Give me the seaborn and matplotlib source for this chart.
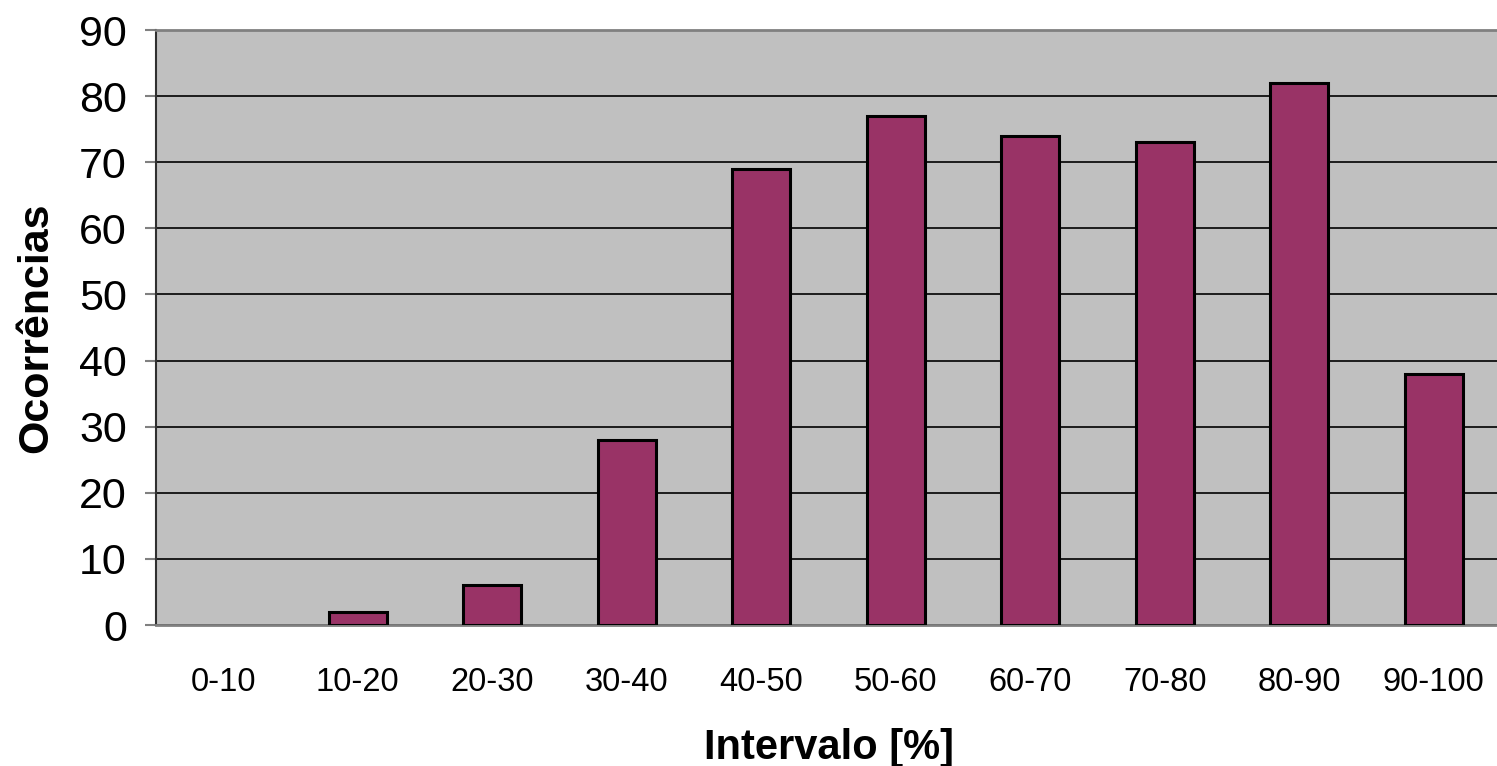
import matplotlib
matplotlib.use("Agg")
import matplotlib.pyplot as plt
import seaborn as sns
import pandas as pd
import numpy as np

categories = ["0-10", "10-20", "20-30", "30-40", "40-50",
              "50-60", "60-70", "70-80", "80-90", "90-100"]
ocorrencias = [0, 2, 6, 28, 69, 77, 74, 73, 82, 38]

df = pd.DataFrame({"intervalo": categories, "ocorrencias": ocorrencias})

sns.set_style("white")
plt.rcParams['font.family'] = ['Liberation Sans', 'DejaVu Sans']
plt.rcParams['text.color'] = 'black'
plt.rcParams['axes.labelcolor'] = 'black'
plt.rcParams['xtick.color'] = 'black'
plt.rcParams['ytick.color'] = 'black'

fig = plt.figure(figsize=(14.97, 7.66), dpi=100)
ax = fig.add_axes([0.1042, 0.184, 0.8985, 0.7768])
ax.set_facecolor("#C0C0C0")

sns.barplot(data=df, x="intervalo", y="ocorrencias", color="#993366",
            saturation=1, width=0.43, edgecolor="black", linewidth=2.2,
            ax=ax, zorder=3)

# empty bins show no outline
for patch, val in zip(ax.patches, ocorrencias):
    if val == 0:
        patch.set_linewidth(0)

ax.set_ylim(0, 90)
ax.set_xlim(-0.5, len(categories) - 0.5)
ax.set_yticks(np.arange(0, 91, 10))
ax.yaxis.grid(True, color="black", linewidth=1.2, zorder=0)
ax.set_axisbelow(True)

# ticks between the categories, labels at the centres
ax.set_xticks(np.arange(-0.5, len(categories) - 0.5, 1), minor=True)
ax.tick_params(axis="x", which="major", length=0, labelsize=23.5, pad=30,
               labelcolor="black")
ax.tick_params(axis="x", which="minor", length=7, width=1.5, color="#808080",
               direction="out")
ax.tick_params(axis="y", length=8, width=1.5, color="#808080", labelsize=31,
               pad=13, direction="out", left=True, labelcolor="black")

for side in ["top", "bottom"]:
    ax.spines[side].set_color("#808080")
    ax.spines[side].set_linewidth(2)
ax.spines["left"].set_color("#303030")
ax.spines["left"].set_linewidth(1.5)
ax.spines["right"].set_visible(False)

ax.set_xlabel("Intervalo [%]", fontsize=30, fontweight="bold", labelpad=22)
ax.set_ylabel("Ocorrências", fontsize=31, fontweight="bold", labelpad=16)

fig.savefig("out.png", dpi=100)
